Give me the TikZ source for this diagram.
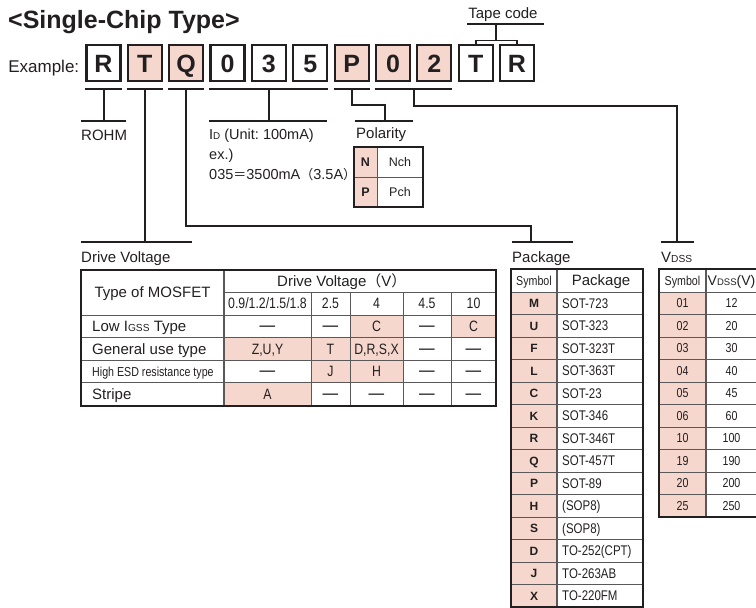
\documentclass[tikz,border=0pt]{standalone}
\usepackage{graphicx}
\usepackage{fontspec}
\setmainfont{Liberation Sans}
\newfontfamily\narrowfont[FakeStretch=0.82]{Liberation Sans}
\newfontfamily\cjk{Noto Sans CJK JP}
\usetikzlibrary{positioning, calc}

\definecolor{cellpink}{RGB}{246,215,205}
\definecolor{ink}{RGB}{35,31,32}
\definecolor{rulegray}{RGB}{90,88,88}

\newcommand{\fsz}[1]{\fontsize{#1}{#1}\selectfont}
\newcommand{\lowsub}[1]{\scalebox{0.68}{#1}}
\newcommand{\nodash}{{\fsz{19}—}}

\begin{document}
\begin{tikzpicture}[x=1pt, y=-1pt,
			every node/.style={font=\fsz{15}, text=ink, inner sep=0pt},
			codebox/.style={draw=ink, line width=2.2pt, minimum width=34pt,
				minimum height=35.8pt, text height=18pt, text depth=0pt,
				font=\fsz{25}\bfseries},
			hot/.style={fill=cellpink},
			bar/.style={draw=ink, line width=2.4pt},
			conn/.style={draw=ink, line width=2pt},
			thinrule/.style={draw=rulegray, line width=0.9pt},
			frame/.style={draw=ink, line width=2.4pt},
			tag/.style={font=\fsz{15}, anchor=base west},
			rowtag/.style={font=\fsz{15}, anchor=west, text height=10.7pt, text depth=0pt},
			cell/.style={font=\narrowfont\fsz{15}, text height=10.7pt, text depth=0pt},
			small/.style={font=\narrowfont\fsz{13}, text height=9.3pt, text depth=0pt},
			]
			\useasboundingbox (0,0) rectangle (756,608);

			% Title
			\node[font=\fsz{25}\bfseries, anchor=base west] (title) at (8,28) {<Single-Chip Type>};

			% Code boxes
			\node[codebox] (cR) at (103.5,63) {R};
			\node[codebox, hot, right=5.15pt of cR] (cT) {T};
			\node[codebox, hot, right=5.15pt of cT] (cQ) {Q};
			\node[codebox, right=5.15pt of cQ] (cI0) {0};
			\node[codebox, right=5.15pt of cI0] (cI3) {3};
			\node[codebox, right=5.15pt of cI3] (cI5) {5};
			\node[codebox, hot, right=5.15pt of cI5] (cP) {P};
			\node[codebox, hot, right=5.15pt of cP] (cV0) {0};
			\node[codebox, hot, right=5.15pt of cV0] (cV2) {2};
			\node[codebox, right=5.15pt of cV2] (cTT) {T};
			\node[codebox, right=5.15pt of cTT] (cTR) {R};
			\node[font=\fsz{17}, anchor=base east] (example) at ([xshift=-6pt]cR.base west) {Example:};

			% Underlines
			\draw[bar] ([yshift=-7pt]cR.south west) -- ([yshift=-7pt]cR.south east);
			\draw[bar] ([yshift=-7pt]cT.south west) -- ([yshift=-7pt]cT.south east);
			\draw[bar] ([yshift=-7pt]cQ.south west) -- ([yshift=-7pt]cQ.south east);
			\draw[bar] ([yshift=-7pt]cI0.south west) -- ([yshift=-7pt]cI5.south east);
			\draw[bar] ([yshift=-7pt]cP.south west) -- ([yshift=-7pt]cP.south east);
			\draw[bar] ([yshift=-7pt]cV0.south west) -- ([yshift=-7pt]cV2.south east);
			\coordinate (uR) at ([yshift=-7pt]cR.south);
			\coordinate (uT) at ([yshift=-7pt]cT.south);
			\coordinate (uQ) at ([yshift=-7pt]cQ.south);
			\coordinate (uI) at ([yshift=-7pt]cI3.south);
			\coordinate (uP) at ([yshift=-7pt]cP.south);
			\coordinate (uV) at ($(cV0.south)!0.5!(cV2.south)+(0,7)$);

			% Tape code
			\draw[conn, line width=1.8pt] (cTT.north) -- ++(0,-3.5) -| (cTR.north);
			\coordinate (tapemid) at ($(cTT.north)!0.5!(cTR.north)+(0,-3.5)$);
			\draw[conn] (tapemid) -- (tapemid |- 0,24);
			\draw[bar] (467,24) -- (544,24);
			\node[anchor=base] (tape) at (503,18) {Tape code};

			% ROHM
			\draw[conn] (uR) -- (uR |- 0,121);
			\draw[bar] (81,121) -- (126,121);
			\node[tag] (rohm) at (81,140) {ROHM};

			% Drain current
			\draw[conn] (uI) -- (uI |- 0,121);
			\draw[bar] (209,121) -- (327,121);
			\node[anchor=north west, align=left, font=\fontsize{14.5}{20}\selectfont] (idnote) at (209,129)
			{I\lowsub{D} (Unit:\ 100mA)\\ex.)\\035{\cjk\fsz{13}＝}3500mA{\cjk\fsz{13}（}3.5A{\cjk\fsz{13}）}};

			% Polarity
			\draw[conn] (uP) -- ++(0,16) -| (385,121);
			\draw[bar] (355,121) -- (413,121);
			\node[tag] (polarity) at (356,138) {Polarity};
			\fill[cellpink] (354,147) rectangle (377,207);
			\draw[thinrule] (354,177) -- (423,177);
			\draw[thinrule] (377,147) -- (377,207);
			\draw[frame] (354,147) rectangle (423,207);
			\node[font=\fsz{12.5}\bfseries] (polN) at (365.5,162) {N};
			\node[font=\fsz{12.5}] (polNch) at (400,162) {Nch};
			\node[font=\fsz{12.5}\bfseries] (polP) at (365.5,192) {P};
			\node[font=\fsz{12.5}] (polPch) at (400,192) {Pch};

			% Drive voltage
			\draw[conn] (uT) -- (uT |- 0,242);
			\draw[bar] (81,242) -- (192,242);
			\node[tag] (drive) at (81,262) {Drive Voltage};
			\fill[cellpink] (350,315) rectangle (403,337.5);
			\fill[cellpink] (451,315) rectangle (496,337.5);
			\fill[cellpink] (224,337.5) rectangle (403,360);
			\fill[cellpink] (311,360) rectangle (403,382.5);
			\fill[cellpink] (224,382.5) rectangle (311,406);
			\draw[thinrule] (224,292) -- (496,292);
			\foreach \y in {315,337.5,360,382.5} \draw[thinrule] (81,\y) -- (496,\y);
			\draw[thinrule, line width=1.4pt] (224,270) -- (224,406);
			\foreach \x in {311,350,403,451} \draw[thinrule] (\x,292) -- (\x,406);
			\draw[frame] (81,270) rectangle (496,406);
			\node[font=\fsz{15}, text height=10.7pt, text depth=0pt] (dvType) at (152.5,292.5) {Type of MOSFET};
			\node[anchor=west, text height=10.7pt, text depth=0pt] (dvHead) at (277,281) {Drive Voltage{\cjk （}V{\cjk ）}};
			\node[cell] (dv09) at (267.5,303.5) {0.9/1.2/1.5/1.8};
			\node[cell] (dv25) at (330.5,303.5) {2.5};
			\node[cell] (dv4) at (376.5,303.5) {4};
			\node[cell] (dv45) at (427,303.5) {4.5};
			\node[cell] (dv10) at (473.5,303.5) {10};
			\node[rowtag] (dvLow) at (92,326.25) {Low I\lowsub{GSS} Type};
			\node[rowtag] (dvGen) at (92,348.75) {General use type};
			\node[rowtag, font=\narrowfont\fsz{13}] (dvEsd) at (92,371.25) {High ESD resistance type};
			\node[rowtag] (dvStripe) at (92,394.25) {Stripe};
			\foreach \t/\x [count=\k] in {\nodash/267.5, \nodash/330.5, C/376.5, \nodash/427, C/473.5}
			\node[cell] (low\k) at (\x,326.25) {\t};
			\foreach \t/\x [count=\k] in {{Z,U,Y}/267.5, T/330.5, {D,R,S,X}/376.5, \nodash/427, \nodash/473.5}
			\node[cell] (gen\k) at (\x,348.75) {\t};
			\foreach \t/\x [count=\k] in {\nodash/267.5, J/330.5, H/376.5, \nodash/427, \nodash/473.5}
			\node[cell] (esd\k) at (\x,371.25) {\t};
			\foreach \t/\x [count=\k] in {A/267.5, \nodash/330.5, \nodash/376.5, \nodash/427, \nodash/473.5}
			\node[cell] (str\k) at (\x,394.25) {\t};

			% Package
			\draw[conn] (uQ) |- (531,226) -- (531,242);
			\draw[bar] (512,242) -- (573,242);
			\node[tag] (package) at (512,262) {Package};
			\fill[cellpink] (511,292) rectangle (557,607);
			\foreach \k in {0,...,13} \draw[thinrule] (511,{292+22.5*\k}) -- (643,{292+22.5*\k});
			\draw[thinrule, line width=1.4pt] (557,269) -- (557,607);
			\draw[frame] (511,269) rectangle (643,607);
			\node[small] (pkSym) at (534,280.5) {Symbol};
			\node[font=\fsz{15}, text height=10.7pt, text depth=0pt] (pkHead) at (601,280.5) {Package};
			\foreach \s/\p [count=\k] in {M/SOT-723, U/SOT-323, F/SOT-323T, L/SOT-363T, C/SOT-23,
				K/SOT-346, R/SOT-346T, Q/SOT-457T, P/SOT-89, H/(SOP8), S/(SOP8),
				D/TO-252(CPT), J/TO-263AB, X/TO-220FM}{
				\node[font=\fsz{12}\bfseries, text height=8.6pt, text depth=0pt] (pks\k) at (534,{292+22.5*(\k-0.5)}) {\s};
				\node[font=\narrowfont\fsz{14}, text height=10pt, text depth=0pt, anchor=west] (pkn\k) at (562,{292+22.5*(\k-0.5)}) {\p};
			}

			% Drain-source voltage
			\draw[conn] (uV) -- ++(0,17) -| (677,242);
			\draw[bar] (661,242) -- (694,242);
			\node[tag] (vdss) at (661,262) {V\lowsub{DSS}};
			\fill[cellpink] (659,292) rectangle (706,517);
			\foreach \k in {0,...,9} \draw[thinrule] (659,{292+22.5*\k}) -- (757,{292+22.5*\k});
			\draw[thinrule, line width=1.4pt] (706,269) -- (706,517);
			\draw[frame] (659,269) rectangle (757,517);
			\node[small] (vdSym) at (682.5,280.5) {Symbol};
			\node[font=\fsz{14}, text height=10pt, text depth=0pt] (vdHead) at (731.5,280.5) {V\lowsub{DSS}(V)};
			\foreach \s/\v [count=\k] in {01/12, 02/20, 03/30, 04/40, 05/45, 06/60, 10/100, 19/190, 20/200, 25/250}{
				\node[small] (vds\k) at (682.5,{292+22.5*(\k-0.5)}) {\s};
				\node[small] (vdv\k) at (731.5,{292+22.5*(\k-0.5)}) {\v};
			}
		\end{tikzpicture}
\end{document}
